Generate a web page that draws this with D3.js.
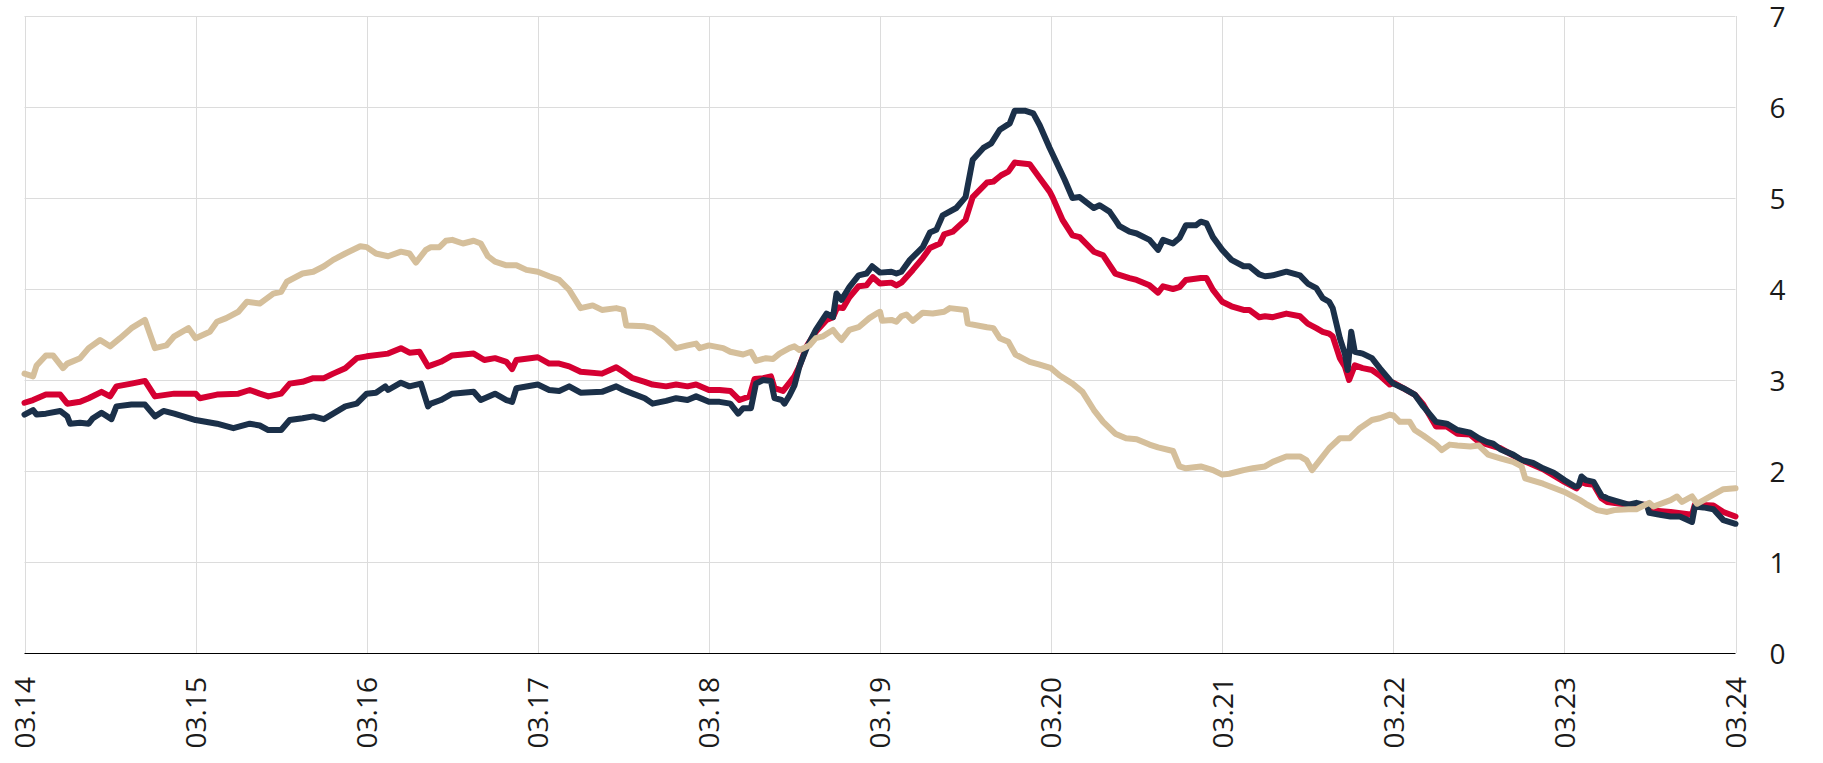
<!DOCTYPE html>
<html>
<head>
<meta charset="utf-8">
<script src="https://cdn.jsdelivr.net/npm/d3@7"></script>
<style>
  body { margin: 0; background: #fff; }
  svg { display: block; font-family: "Open Sans", sans-serif; }
</style>
</head>
<body>
<script>
var svgWidth = 1823;
var svgHeight = 763;

// x labels, one per day, and y tick values
var dayLabels = ["03.14", "03.15", "03.16", "03.17", "03.18", "03.19", "03.20", "03.21", "03.22", "03.23", "03.24"];
var yTicks = [0, 1, 2, 3, 4, 5, 6, 7];

// hours since 03.14 00:00 and values
var tanHours = [0, 1.2, 1.7, 3, 4, 5.4, 6, 7.8, 9, 10.6, 12, 13.4, 15, 16.9, 18.3, 19.9, 21, 23,
    24, 26, 27, 28.3, 30, 31.2, 33, 34.9, 36, 36.8, 39, 40.5, 42, 43.3, 45, 47.1,
    48, 49.3, 51, 52.8, 54, 54.9, 56.3, 57, 58.2, 59.1, 60, 61.5, 63, 64, 65, 66, 67.6, 69, 70.4,
    72, 73.6, 75, 76.4, 78, 79.7, 81, 83, 84, 84.4, 87, 88.1, 90, 91.4, 93, 94.2, 94.7,
    96, 98, 99, 100.8, 101.9, 102.6, 104, 105, 105.9, 107.3, 108, 108.7, 110.1, 111, 112, 113.4, 114, 114.6, 115.7, 117, 118.5, 119.7,
    120, 120.3, 121.6, 122.3, 123, 123.7, 124.6, 126, 127.4, 129, 129.8, 132, 132.3, 135, 135.9, 136.8, 138, 139, 141, 142.4,
    144, 145.2, 147, 148.4, 150, 151.3, 153, 154.5, 156, 157.8, 159, 161.1, 162, 162.9, 165, 166.7,
    168, 169, 171, 172.3, 174, 175.1, 177, 178.9, 179.8, 180.6, 181.7, 183, 184.5, 185.9, 187.3, 189, 190.1, 191.5,
    192, 192.9, 194.3, 195, 196.2, 198, 198.8, 199.9, 201, 202.8, 204, 205.3, 207, 208.8, 210, 210.5, 213,
    216, 218.2, 219, 220.6, 222, 223, 225, 226.1, 227.9, 228.5, 230.9, 231.8, 232.5, 233.9, 234.6, 236.9, 238.3, 240];
var tanValues = [3.07, 3.04, 3.16, 3.27, 3.27, 3.13, 3.18, 3.24, 3.35, 3.44, 3.37, 3.46, 3.57, 3.66, 3.35, 3.38, 3.48, 3.57,
    3.46, 3.53, 3.64, 3.68, 3.75, 3.86, 3.84, 3.95, 3.97, 4.08, 4.17, 4.19, 4.25, 4.32, 4.39, 4.47,
    4.46, 4.39, 4.36, 4.41, 4.39, 4.29, 4.43, 4.46, 4.46, 4.53, 4.54, 4.50, 4.53, 4.50, 4.36, 4.30, 4.26, 4.26, 4.21,
    4.19, 4.14, 4.10, 3.99, 3.79, 3.82, 3.77, 3.79, 3.77, 3.60, 3.59, 3.57, 3.46, 3.35, 3.38, 3.40, 3.35,
    3.38, 3.35, 3.31, 3.28, 3.31, 3.21, 3.24, 3.23, 3.29, 3.35, 3.37, 3.33, 3.38, 3.46, 3.48, 3.55, 3.49, 3.44, 3.55, 3.58, 3.68, 3.74,
    3.75, 3.65, 3.66, 3.64, 3.70, 3.72, 3.65, 3.74, 3.73, 3.75, 3.79, 3.77, 3.62, 3.58, 3.57, 3.46, 3.42, 3.28, 3.20, 3.17,
    3.13, 3.05, 2.96, 2.87, 2.67, 2.54, 2.41, 2.36, 2.35, 2.29, 2.26, 2.22, 2.05, 2.03, 2.05, 2.01,
    1.96, 1.97, 2.01, 2.03, 2.05, 2.10, 2.16, 2.16, 2.12, 2.01, 2.12, 2.25, 2.36, 2.36, 2.47, 2.56, 2.58, 2.62,
    2.61, 2.54, 2.54, 2.45, 2.39, 2.29, 2.23, 2.29, 2.28, 2.27, 2.28, 2.18, 2.14, 2.10, 2.05, 1.92, 1.86,
    1.77, 1.68, 1.64, 1.57, 1.55, 1.57, 1.58, 1.58, 1.65, 1.61, 1.68, 1.72, 1.66, 1.72, 1.64, 1.74, 1.80, 1.81];

var redHours = [0, 1.2, 3, 5, 6, 7.8, 9, 10.8, 12, 12.9, 15, 16.9, 18.3, 21,
    24, 24.6, 27, 30, 31.6, 33, 34.2, 36, 37.2, 39, 40.5, 42, 43.3, 45, 46.6,
    48, 51, 52.8, 54, 55.4, 56.6, 57, 58.4, 60, 63, 64.5, 66, 67.6, 68.4, 69,
    72, 73.6, 75, 76.4, 78, 81, 83, 84, 85.3, 87, 88.1, 90, 91.4, 93, 94.2,
    96, 97.5, 99, 100.3, 101.7, 102.4, 103.6, 104.7, 105.2, 106.4, 107.3, 108, 108.7, 109.7, 111, 112.5, 113.4, 114, 114.8, 115.7, 117, 118.1, 119,
    120, 121.6, 122.3, 123, 124.6, 126, 127, 128.4, 129, 130.2, 132, 133, 135, 135.9, 137, 138, 138.9, 141, 142.4, 143.8,
    144.2, 145.6, 147, 148, 150, 151.3, 153, 155, 156, 157.8, 159, 159.7, 161.1, 162, 162.9, 165, 165.8, 166.7,
    168, 169.3, 171, 171.8, 173.2, 174, 175.1, 177, 178.9, 180, 181.2, 182.1, 183, 183.5, 184.5, 185.2, 185.8, 186.6, 187.7, 189, 190.1, 191.5,
    192, 195, 196.2, 198, 199.5, 201, 202.8, 204, 207, 210, 213,
    216, 217.7, 218.4, 219, 220.1, 221.2, 222, 225, 227.6, 227.9, 230.9, 233.9, 234.3, 236.9, 238.3, 240];
var redValues = [2.75, 2.78, 2.84, 2.84, 2.74, 2.76, 2.80, 2.87, 2.82, 2.93, 2.96, 2.99, 2.82, 2.85,
    2.85, 2.80, 2.84, 2.85, 2.89, 2.85, 2.82, 2.85, 2.96, 2.98, 3.02, 3.02, 3.07, 3.13, 3.24,
    3.26, 3.29, 3.35, 3.30, 3.31, 3.15, 3.16, 3.20, 3.27, 3.29, 3.22, 3.24, 3.20, 3.12, 3.22,
    3.25, 3.18, 3.18, 3.15, 3.09, 3.07, 3.14, 3.09, 3.02, 2.98, 2.95, 2.93, 2.95, 2.93, 2.95,
    2.89, 2.89, 2.88, 2.78, 2.82, 3.01, 3.02, 3.04, 2.91, 2.88, 2.97, 3.04, 3.15, 3.37, 3.53, 3.66, 3.69, 3.80, 3.79, 3.91, 4.03, 4.04, 4.13,
    4.06, 4.07, 4.04, 4.07, 4.21, 4.34, 4.45, 4.50, 4.60, 4.63, 4.76, 5.01, 5.17, 5.18, 5.25, 5.29, 5.39, 5.37, 5.22, 5.07,
    5.01, 4.76, 4.59, 4.57, 4.41, 4.37, 4.17, 4.12, 4.10, 4.04, 3.96, 4.03, 4.00, 4.02, 4.10, 4.12, 4.12, 3.99,
    3.86, 3.81, 3.77, 3.77, 3.69, 3.70, 3.69, 3.73, 3.70, 3.62, 3.57, 3.53, 3.51, 3.48, 3.24, 3.15, 3.00, 3.16, 3.13, 3.11, 3.05, 2.95,
    2.97, 2.84, 2.73, 2.49, 2.49, 2.41, 2.40, 2.32, 2.25, 2.12, 2.02,
    1.88, 1.81, 1.88, 1.86, 1.85, 1.70, 1.66, 1.63, 1.63, 1.57, 1.55, 1.52, 1.63, 1.62, 1.55, 1.50];

var navyHours = [0, 1.2, 1.7, 3, 5, 6, 6.4, 7.8, 9, 9.6, 10.8, 12.2, 12.9, 15, 16.9, 18.3, 19.5, 21,
    24, 27, 29.3, 31.6, 33, 34.2, 36, 37.2, 39, 40.5, 42, 43.3, 45, 46.6,
    48, 49.3, 50.6, 51, 52.8, 54, 55.6, 56.6, 57, 58.4, 60, 63, 64, 66, 67.6, 68.4, 69,
    72, 73.6, 75, 76.4, 78, 81, 83, 84, 85.3, 87, 88.1, 90, 91.4, 93, 94.2,
    96, 97.5, 99, 100.1, 100.8, 101.9, 102.6, 103.6, 104.7, 105.2, 106.2, 106.6, 107.3, 108, 108.7, 109.7, 111, 112.5, 113.4, 113.9, 114.6, 115.7, 117, 118.1, 118.9,
    120, 121.6, 122.3, 123, 124.2, 126, 127, 127.9, 128.8, 130.7, 132, 133, 134.5, 135.6, 136.8, 138.2, 138.9, 140.3, 141.5, 142.4, 143.8,
    145.9, 147, 148, 150, 150.8, 152.2, 153, 153.6, 155, 156, 157.8, 159, 159.7, 161.1, 162, 162.9, 164.3, 165, 165.8, 166.7,
    168, 169.3, 171, 171.8, 173.2, 174, 175.1, 177, 178.9, 180, 181.2, 182.1, 183, 183.5, 184.5, 185.2, 185.6, 186.1, 186.6, 187.7, 189, 190.1, 191.5,
    192, 193.4, 195, 196.2, 198, 199.5, 201, 202.8, 204, 205.1, 206, 207, 208.8, 210, 211.6, 213, 214.5,
    216, 217.5, 218, 218.4, 219, 220.1, 221.2, 222, 223.3, 225, 226.1, 227.6, 227.9, 229.4, 230.9, 232.2, 233.9, 234.3, 235.5, 236.9, 238.3, 240];
var navyValues = [2.62, 2.67, 2.62, 2.63, 2.66, 2.60, 2.52, 2.53, 2.52, 2.58, 2.64, 2.57, 2.71, 2.73, 2.73, 2.60, 2.66, 2.63,
    2.56, 2.52, 2.47, 2.52, 2.50, 2.45, 2.45, 2.56, 2.58, 2.60, 2.57, 2.63, 2.71, 2.74,
    2.85, 2.86, 2.93, 2.89, 2.97, 2.93, 2.96, 2.71, 2.74, 2.78, 2.85, 2.87, 2.78, 2.85, 2.78, 2.76, 2.91,
    2.95, 2.89, 2.88, 2.93, 2.86, 2.87, 2.93, 2.89, 2.85, 2.80, 2.74, 2.77, 2.80, 2.78, 2.82,
    2.76, 2.76, 2.74, 2.63, 2.69, 2.69, 2.96, 3.00, 2.99, 2.80, 2.78, 2.74, 2.83, 2.94, 3.15, 3.35, 3.55, 3.73, 3.69, 3.95, 3.88, 4.02, 4.15, 4.17, 4.25,
    4.18, 4.19, 4.17, 4.19, 4.32, 4.46, 4.62, 4.65, 4.81, 4.89, 5.01, 5.42, 5.55, 5.60, 5.75, 5.82, 5.96, 5.96, 5.93, 5.80, 5.55,
    5.20, 5.00, 5.01, 4.89, 4.92, 4.85, 4.76, 4.69, 4.63, 4.61, 4.54, 4.43, 4.54, 4.50, 4.56, 4.70, 4.70, 4.74, 4.72, 4.57,
    4.43, 4.32, 4.25, 4.25, 4.16, 4.14, 4.15, 4.19, 4.15, 4.06, 4.01, 3.90, 3.86, 3.79, 3.46, 3.29, 3.11, 3.53, 3.31, 3.29, 3.24, 3.13, 3.00,
    2.96, 2.91, 2.84, 2.71, 2.54, 2.52, 2.45, 2.42, 2.36, 2.32, 2.30, 2.24, 2.18, 2.12, 2.09, 2.03, 1.98,
    1.90, 1.83, 1.84, 1.94, 1.90, 1.88, 1.73, 1.70, 1.67, 1.63, 1.65, 1.62, 1.54, 1.52, 1.50, 1.50, 1.44, 1.61, 1.60, 1.58, 1.46, 1.42];

var plotLeft = 24.5, plotRight = 1735.5, plotTop = 16, plotBottom = 653;

var x = d3.scaleLinear().domain([0, 240]).range([plotLeft, plotRight]);
var y = d3.scaleLinear().domain([0, 7]).range([plotBottom, plotTop]);

var svg = d3.select("body")
    .append("svg")
    .attr("width", svgWidth)
    .attr("height", svgHeight);

var dayHours = dayLabels.map(function (d, i) { return i * 24; });

// grid
svg.append("g")
    .selectAll("line")
    .data(dayHours)
    .enter()
    .append("line")
    .attr("x1", function (d) { return Math.round(x(d)) + 0.5; })
    .attr("x2", function (d) { return Math.round(x(d)) + 0.5; })
    .attr("y1", plotTop)
    .attr("y2", plotBottom)
    .attr("stroke", "#dcdcdc")
    .attr("stroke-width", 1);

svg.append("g")
    .selectAll("line")
    .data(yTicks.slice(1))
    .enter()
    .append("line")
    .attr("x1", plotLeft)
    .attr("x2", plotRight)
    .attr("y1", function (d) { return Math.round(y(d)) + 0.5; })
    .attr("y2", function (d) { return Math.round(y(d)) + 0.5; })
    .attr("stroke", "#dcdcdc")
    .attr("stroke-width", 1);

// base line at 0
svg.append("line")
    .attr("x1", plotLeft)
    .attr("x2", plotRight)
    .attr("y1", plotBottom + 0.5)
    .attr("y2", plotBottom + 0.5)
    .attr("stroke", "#000")
    .attr("stroke-width", 1);

// lines
var line = d3.line()
    .x(function (d) { return x(d[0]); })
    .y(function (d) { return y(d[1]); });

var series = [
    { data: d3.zip(redHours, redValues), color: "#d50032" },
    { data: d3.zip(navyHours, navyValues), color: "#1b3049" },
    { data: d3.zip(tanHours, tanValues), color: "#d5bf9b" }
];

svg.append("g")
    .selectAll("path")
    .data(series)
    .enter()
    .append("path")
    .attr("d", function (d) { return line(d.data); })
    .attr("fill", "none")
    .attr("stroke", function (d) { return d.color; })
    .attr("stroke-width", 6)
    .attr("stroke-linejoin", "round")
    .attr("stroke-linecap", "round");

// y axis on the right
var yAxis = svg.append("g")
    .attr("transform", "translate(" + plotRight + ",0)")
    .call(d3.axisRight(y).tickValues(yTicks).tickSize(0).tickPadding(34)
        .tickFormat(d3.format("d")));
yAxis.select(".domain").remove();
yAxis.selectAll("text")
    .attr("font-family", "Open Sans")
    .attr("font-size", "28px")
    .attr("fill", "#1a1a1a")
    .attr("dy", "0.36em");

// x axis with rotated labels
var xAxis = svg.append("g")
    .attr("transform", "translate(0," + plotBottom + ")")
    .call(d3.axisBottom(x).tickValues(dayHours).tickSize(0)
        .tickFormat(function (d, i) { return dayLabels[i]; }));
xAxis.select(".domain").remove();
xAxis.selectAll("text")
    .attr("font-family", "Open Sans")
    .attr("font-size", "28px")
    .attr("fill", "#1a1a1a")
    .attr("text-anchor", "end")
    .attr("transform", "rotate(-90)")
    .attr("x", -24)
    .attr("y", 0)
    .attr("dy", "0.35em");
</script>
</body>
</html>
